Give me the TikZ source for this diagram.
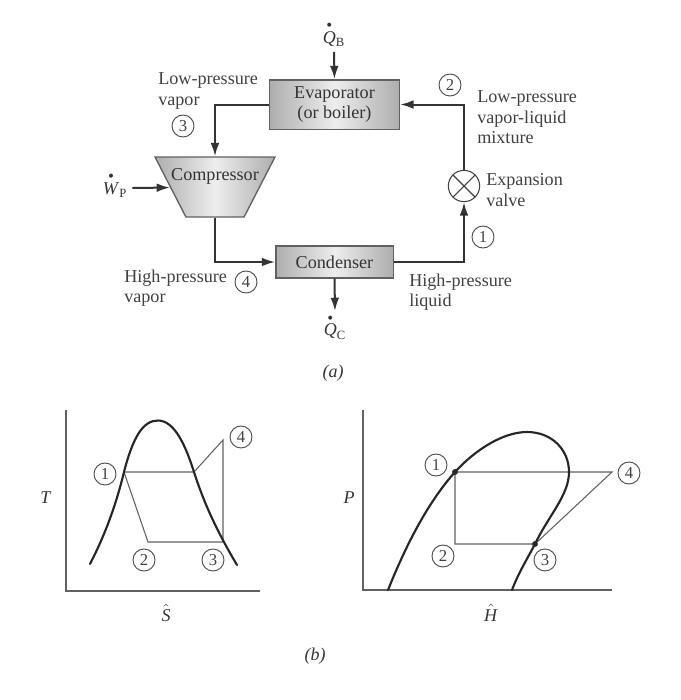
\documentclass[tikz,border=0pt]{standalone}
\usepackage{amsmath,amssymb}
\usepackage{fontspec}
\setmainfont{Liberation Serif}
\usetikzlibrary{arrows.meta, positioning, shapes.geometric, calc}
\newcommand{\rate}[2]{$\overset{\scriptscriptstyle\bullet}{\text{\textit{#1}}}_{\text{#2}}$}
\newcommand{\spec}[1]{$\hat{\text{\textit{#1}}}$}

\begin{document}
\begin{tikzpicture}[x=0.75pt, y=-0.75pt,
  unit/.style={draw=black!62, line width=1pt, left color=black!32, right color=black!32, middle color=black!7, text=black!80, font=\fontsize{13.6}{15.4}\selectfont, align=center, inner sep=0pt},
  pipe/.style={-{Latex[length=10pt, width=6.5pt]}, line width=1.5pt, draw=black!80},
  txt/.style={text=black!75, font=\fontsize{13.6}{15.4}\selectfont, align=left, anchor=west, inner sep=0pt},
  num/.style={circle, draw=black!70, line width=0.7pt, minimum size=16.5pt, inner sep=0pt, text=black!75, font=\fontsize{12.5}{14}\selectfont},
  axisline/.style={draw=black!62, line width=0.9pt},
  cycleline/.style={draw=black!62, line width=0.8pt},
  dome/.style={draw=black!85, line width=1.6pt, line cap=round},
  sym/.style={text=black!80, font=\fontsize{13.5}{15}\selectfont, inner sep=0pt}]
  \useasboundingbox (0,0) rectangle (681,700);

  % flow sheet
  \node[unit, minimum width=97.5pt, minimum height=37pt] (ev) at (334.5,104.5) {Evaporator\\(or boiler)};
  \node[unit, minimum width=88pt, minimum height=24pt] (cn) at (334.5,262) {Condenser};
  \node[unit, inner sep=2pt, trapezium, shape border rotate=180, trapezium left angle=62, trapezium right angle=62, trapezium stretches=true, minimum width=90pt, minimum height=45pt] (cp) at (215,187) {};
  \node[txt, anchor=center, text=black!80] (cplabel) at (215,176.5) {Compressor};
  \node[circle, draw=black!75, line width=0.8pt, minimum size=23.5pt, inner sep=0pt, fill=white,
    path picture={\draw[black!75, line width=0.8pt] (path picture bounding box.north west) -- (path picture bounding box.south east) (path picture bounding box.north east) -- (path picture bounding box.south west);}] (vl) at (464,186) {};

  \node[sym] (qb) at (334,34) {\rate{Q}{B}};
  \node[sym] (qc) at (335,327) {\rate{Q}{C}};
  \node[sym] (wp) at (115,185) {\rate{W}{P}};

  \draw[pipe] ($(qb.south)+(0,5)$) coordinate (qbend) -- (ev.north);
  \draw[pipe] (cn.south) -- ($(qc.north)+(0,-3)$) coordinate (qcend);
  \draw[pipe] ($(wp.east)+(5,3)$) coordinate (wpend) -- (cp);
  \draw[pipe] (ev.west) -| (cp.north);
  \draw[pipe] (cp.south) |- (cn.west);
  \draw[pipe] (cn.east) -| (vl.south);
  \draw[pipe] (vl.north) |- (ev.east);

  \node[num] (a2) at (450,85) {2};
  \node[num] (a1) at (483,237) {1};
  \node[num] (a3) at (183,126) {3};
  \node[num] (a4) at (246,282) {4};

  \node[txt] (lpv) at (158,91) {Low-pressure\\vapor};
  \node[txt] (lpm) at (477,117.5) {Low-pressure\\vapor-liquid\\mixture};
  \node[txt] (evl) at (486,190) {Expansion\\valve};
  \node[txt] (hpl) at (409,292) {High-pressure\\liquid};
  \node[txt] (hpv) at (124,288) {High-pressure\\vapor};
  \node[sym] (capa) at (333,373) {\textit{(a)}};

  % temperature-entropy chart
  \coordinate (ts1) at (124,472);
  \coordinate (ts1b) at (194,472);
  \coordinate (ts4) at (223,440);
  \coordinate (ts3) at (223,542);
  \coordinate (ts2) at (148,542);
  \coordinate (tstop) at (66,410);
  \coordinate (tso) at (66,591);
  \coordinate (tsend) at (260,591);
  \draw[axisline] (tstop) -- (tso) -- (tsend);
  \draw[cycleline] (ts1) -- (ts1b) -- (ts4) -- (ts3) -- (ts2) -- (ts1);
  \draw[dome] (90,564) .. controls (105,535) and (116,505) .. (ts1) .. controls (133,437) and (143,420.5) .. (158,420.5) .. controls (175,420.5) and (186,447) .. (ts1b) .. controls (203,500) and (215,528) .. (237,565);
  \node[num] (b1) at (105,474) {1};
  \node[num] (b2) at (144,560) {2};
  \node[num] (b3) at (213,560) {3};
  \node[num] (b4) at (241,437) {4};
  \node[sym] (tlab) at (46,498) {\textit{T}};
  \node[sym] (slab) at (166,613) {\spec{S}};

  % pressure-enthalpy chart
  \coordinate (ph1) at (455,472);
  \coordinate (ph4) at (612,472);
  \coordinate (ph3) at (535,544);
  \coordinate (ph2) at (455,544);
  \coordinate (phtop) at (363,410);
  \coordinate (pho) at (363,590);
  \coordinate (phend) at (612,590);
  \draw[axisline] (phtop) -- (pho) -- (phend);
  \draw[cycleline] (ph1) -- (ph4) -- (ph3) -- (ph2) -- (ph1);
  \draw[dome] (388,590) .. controls (408,540) and (430,500) .. (ph1) .. controls (475,450) and (503,432) .. (527,432) .. controls (552,432) and (569,450) .. (569,472) .. controls (569,495) and (549,515) .. (ph3) .. controls (526,561) and (518,574) .. (512,590);
  \fill[black!85] (ph1) circle (2.2pt) (ph3) circle (2.2pt);
  \node[num] (c1) at (436,465) {1};
  \node[num] (c2) at (443,556) {2};
  \node[num] (c3) at (545,560) {3};
  \node[num] (c4) at (629,473) {4};
  \node[sym] (plab) at (349,498) {\textit{P}};
  \node[sym] (hlab) at (491,613) {\spec{H}};
  \node[sym] (capb) at (315,656) {\textit{(b)}};
\end{tikzpicture}
\end{document}
